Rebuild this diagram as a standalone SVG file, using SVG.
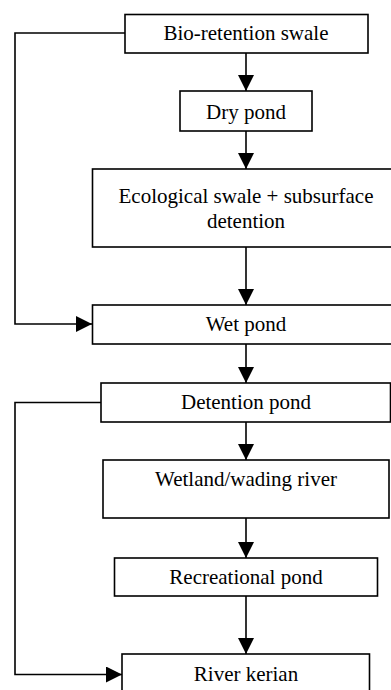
<svg xmlns="http://www.w3.org/2000/svg" width="391" height="690" viewBox="0 0 391 690">
<style>
.box{fill:#fff;stroke:#000;stroke-width:1.6}
.lbl{font-family:"Liberation Serif","Times New Roman",serif;font-size:21px;fill:#000;text-anchor:middle}
.con{fill:none;stroke:#000;stroke-width:1.6}
</style>
<defs>
<marker id="arr" markerUnits="userSpaceOnUse" markerWidth="16" markerHeight="16" refX="16" refY="8" orient="auto">
<path d="M0,0 L16,8 L0,16 z" fill="#000"/>
</marker>
</defs>
<rect width="391" height="690" fill="#fff"/>
<g id="connectors">
<line class="con" x1="246" y1="53" x2="246" y2="91" marker-end="url(#arr)"/>
<line class="con" x1="246" y1="131" x2="246" y2="169" marker-end="url(#arr)"/>
<line class="con" x1="246" y1="247" x2="246" y2="305" marker-end="url(#arr)"/>
<line class="con" x1="246" y1="344" x2="246" y2="383" marker-end="url(#arr)"/>
<line class="con" x1="246" y1="422" x2="246" y2="460" marker-end="url(#arr)"/>
<line class="con" x1="246" y1="518" x2="246" y2="558" marker-end="url(#arr)"/>
<line class="con" x1="246" y1="596" x2="246" y2="654" marker-end="url(#arr)"/>
<polyline class="con" points="125,33 15,33 15,324 92,324" marker-end="url(#arr)"/>
<polyline class="con" points="101,402.5 15,402.5 15,674.5 122,674.5" marker-end="url(#arr)"/>
</g>
<g id="n1"><rect class="box" x="125" y="14.5" width="243" height="38.5"/><text class="lbl" x="246" y="40">Bio-retention swale</text></g>
<g id="n2"><rect class="box" x="180" y="91" width="132" height="40"/><text class="lbl" x="246" y="118.5">Dry pond</text></g>
<g id="n3"><rect class="box" x="92.5" y="169" width="306" height="78"/><text class="lbl" x="246" y="203">Ecological swale + subsurface</text><text class="lbl" x="246" y="227.5">detention</text></g>
<g id="n4"><rect class="box" x="92.5" y="305" width="306" height="39"/><text class="lbl" x="246" y="331">Wet pond</text></g>
<g id="n5"><rect class="box" x="101" y="383" width="289.5" height="39"/><text class="lbl" x="246" y="408.5">Detention pond</text></g>
<g id="n6"><rect class="box" x="103" y="460" width="286" height="58"/><text class="lbl" x="246" y="486">Wetland/wading river</text></g>
<g id="n7"><rect class="box" x="114.5" y="558" width="263" height="38"/><text class="lbl" x="246" y="583.5">Recreational pond</text></g>
<g id="n8"><rect class="box" x="122" y="654" width="247.5" height="44"/><text class="lbl" x="246" y="681">River kerian</text></g>
</svg>
